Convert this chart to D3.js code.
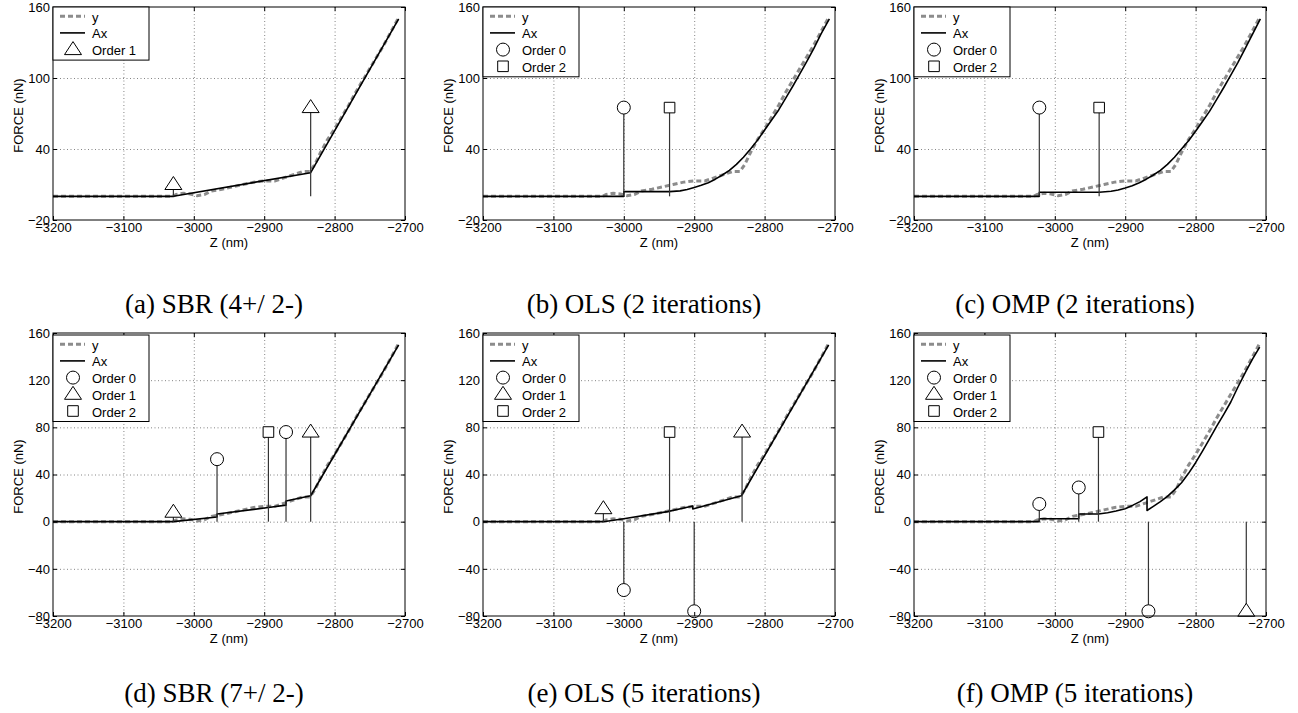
<!DOCTYPE html>
<html>
<head>
<meta charset="utf-8">
<script src="https://cdn.jsdelivr.net/npm/d3@7"></script>
<style>
  body { margin: 0; background: #fff; }
  svg text { font-family: "Liberation Sans", Arial, sans-serif; }
  svg text.caption { font-family: "Liberation Serif", "Times New Roman", serif; }
</style>
</head>
<body>
<div id="fig"></div>
<script>
// Tick values
const zTicks = [-3200, -3100, -3000, -2900, -2800, -2700];
const forceTicksTop = [-20, 40, 100, 160];
const forceTicksBottom = [-80, -40, 0, 40, 80, 120, 160];

// Measured curve y (same in every panel)
const yMeasured = [[-3200,0],[-3030,0],[-3025,1.5],[-3015,2.5],[-3005,2],[-2995,0.5],[-2985,1.5],
  [-2975,4.5],[-2960,6],[-2945,8],[-2930,10],[-2915,12],[-2900,13],[-2885,13],[-2870,16],
  [-2855,19],[-2845,21],[-2835,21],[-2828,27],[-2820,37],[-2810,48],[-2800,57],[-2790,67],
  [-2780,77],[-2770,88],[-2760,98],[-2750,108],[-2740,118],[-2730,128],[-2720,139],[-2710,150]];

// Fitted curves Ax
const axSBR4 = [[-3200,0],[-3029,0],[-2834,20],[-2709,150]];
const axOLS2 = [[-3200,0],[-3000,0],[-3000,4],[-2935,4],[-2920,4.6],[-2910,5.8],[-2900,7.5],
  [-2890,9.3],[-2880,11.5],[-2870,14.5],[-2860,18],[-2850,22],[-2840,27],[-2830,33],[-2820,40],
  [-2810,47.5],[-2800,56],[-2790,64.5],[-2780,73],[-2770,83],[-2760,93],[-2750,103.5],
  [-2740,114],[-2730,125],[-2720,137],[-2708,150]];
const axOMP2 = [[-3200,0],[-3022,0],[-3022,3.5],[-2937,3.5],[-2920,4.3],[-2910,5.4],[-2900,7],
  [-2890,9],[-2880,11.5],[-2870,14.5],[-2860,18],[-2850,22],[-2840,27],[-2830,33],[-2820,40],
  [-2810,47],[-2800,55],[-2790,63.5],[-2780,72],[-2770,82],[-2760,92],[-2750,102.5],
  [-2740,113],[-2730,124.5],[-2720,136],[-2708,150]];
const axSBR7 = [[-3200,0],[-3029,0],[-2967,4],[-2967,6.5],[-2894,12],[-2869,14],[-2869,17.5],
  [-2834,22],[-2709,150]];
const axOLS5 = [[-3200,0],[-3029,0],[-3000,2.5],[-2938,8.5],[-2902,13.3],[-2902,10.7],
  [-2833,22],[-2709,150]];
const axOMP5 = [[-3200,0],[-3022,0],[-3022,2.5],[-2966,2.5],[-2966,6.5],[-2938,6.5],[-2925,7.5],
  [-2913,9],[-2900,11],[-2889,14],[-2879,17],[-2869,21],[-2869,9.5],[-2860,13],[-2850,17],
  [-2840,21.5],[-2830,27],[-2820,33],[-2810,41],[-2800,50],[-2790,60],[-2780,70.5],[-2770,81],
  [-2760,91],[-2750,101.5],[-2740,114],[-2728,128],[-2719,138],[-2709,148]];

// Selected atoms (stems): z position, value, order
const stemsSBR4 = [{z:-3029,v:10,o:1},{z:-2834,v:75,o:1}];
const stemsOLS2 = [{z:-3000,v:75,o:0},{z:-2935,v:75,o:2}];
const stemsOMP2 = [{z:-3022,v:75,o:0},{z:-2937,v:75,o:2}];
const stemsSBR7 = [{z:-3029,v:8,o:1},{z:-2967,v:53,o:0},{z:-2894,v:76,o:2},{z:-2869,v:76,o:0},{z:-2834,v:76,o:1}];
const stemsOLS5 = [{z:-3029,v:11,o:1},{z:-3000,v:-58,o:0},{z:-2935,v:76,o:2},{z:-2900,v:-76,o:0},{z:-2832,v:76,o:1}];
const stemsOMP5 = [{z:-3022,v:15,o:0},{z:-2966,v:29,o:0},{z:-2938,v:76,o:2},{z:-2867,v:-76,o:0},{z:-2728,v:-76,o:1}];

const captions = ["(a) SBR (4+/ 2-)", "(b) OLS (2 iterations)", "(c) OMP (2 iterations)",
                  "(d) SBR (7+/ 2-)", "(e) OLS (5 iterations)", "(f) OMP (5 iterations)"];

// Layout
const boxW = 352;
const colLeft = [53, 483, 914];
const rows = [
  {top: 7,   h: 213, dom: [-20, 160], ticks: forceTicksTop,    capY: 313, legTop: 0},
  {top: 333, h: 283, dom: [-80, 160], ticks: forceTicksBottom, capY: 702, legTop: 2}
];

const panels = [
  {col:0, row:0, fit:axSBR4, stems:stemsSBR4},
  {col:1, row:0, fit:axOLS2, stems:stemsOLS2},
  {col:2, row:0, fit:axOMP2, stems:stemsOMP2},
  {col:0, row:1, fit:axSBR7, stems:stemsSBR7},
  {col:1, row:1, fit:axOLS5, stems:stemsOLS5},
  {col:2, row:1, fit:axOMP5, stems:stemsOMP5}
];

const svg = d3.select("#fig").append("svg")
  .attr("width", 1298)
  .attr("height", 713);

const fmt = d3.format("d");

// Marker shapes for the atom orders
function markerPath(o) {
  if (o === 0) return d3.symbol(d3.symbolCircle, Math.PI * 6.5 * 6.5)();
  if (o === 1) return "M0,-8L8.5,5L-8.5,5Z";
  return "M-5.3,-5.3H5.3V5.3H-5.3Z";
}

function drawPanel(p, i) {
  const r = rows[p.row];
  const h = r.h;
  const g = svg.append("g")
    .attr("transform", "translate(" + colLeft[p.col] + "," + r.top + ")");

  const x = d3.scaleLinear().domain([-3200, -2700]).range([0, boxW]);
  const y = d3.scaleLinear().domain(r.dom).range([h, 0]);

  // Grid
  g.append("g")
    .call(d3.axisBottom(x).tickValues(zTicks.slice(1, -1)).tickSize(h).tickFormat(""))
    .call(s => s.select(".domain").remove())
    .selectAll("line")
      .attr("stroke", "#666")
      .attr("stroke-width", 0.8)
      .attr("stroke-dasharray", "1,2.5");
  g.append("g")
    .call(d3.axisLeft(y).tickValues(r.ticks.slice(1, -1)).tickSize(-boxW).tickFormat(""))
    .call(s => s.select(".domain").remove())
    .selectAll("line")
      .attr("stroke", "#666")
      .attr("stroke-width", 0.8)
      .attr("stroke-dasharray", "1,2.5");

  const line = d3.line().x(d => x(d[0])).y(d => y(d[1]));

  // Measured y
  g.append("path")
    .datum(yMeasured)
    .attr("d", line)
    .attr("fill", "none")
    .attr("stroke", "#8c8c8c")
    .attr("stroke-width", 3)
    .attr("stroke-dasharray", "5,3");

  // Fit Ax
  g.append("path")
    .datum(p.fit)
    .attr("d", line)
    .attr("fill", "none")
    .attr("stroke", "#000")
    .attr("stroke-width", 1.6)
    .attr("stroke-linejoin", "round");

  // Stems
  g.selectAll(".stem")
    .data(p.stems)
    .enter()
    .append("line")
      .attr("x1", d => x(d.z))
      .attr("x2", d => x(d.z))
      .attr("y1", y(0))
      .attr("y2", d => y(d.v))
      .attr("stroke", "#333")
      .attr("stroke-width", 1.2);

  g.selectAll(".mark")
    .data(p.stems)
    .enter()
    .append("path")
      .attr("transform", d => "translate(" + x(d.z) + "," + y(d.v) + ")")
      .attr("d", d => markerPath(d.o))
      .attr("fill", "#fff")
      .attr("stroke", "#000")
      .attr("stroke-width", 1);

  // Box
  g.append("rect")
    .attr("width", boxW)
    .attr("height", h)
    .attr("fill", "none")
    .attr("stroke", "#000")
    .attr("stroke-width", 1);

  // Axes with inward ticks
  g.append("g")
    .attr("transform", "translate(0," + h + ")")
    .call(d3.axisBottom(x).tickValues(zTicks).tickSize(-4).tickSizeOuter(0).tickPadding(3).tickFormat(fmt))
    .call(s => s.select(".domain").remove())
    .attr("font-size", 13)
    .attr("font-family", null);
  g.append("g")
    .call(d3.axisTop(x).tickValues(zTicks).tickSize(-4).tickSizeOuter(0).tickFormat(""))
    .call(s => s.select(".domain").remove());
  g.append("g")
    .call(d3.axisLeft(y).tickValues(r.ticks).tickSize(-4).tickSizeOuter(0).tickPadding(3).tickFormat(fmt))
    .call(s => s.select(".domain").remove())
    .attr("font-size", 13)
    .attr("font-family", null);
  g.append("g")
    .attr("transform", "translate(" + boxW + ",0)")
    .call(d3.axisRight(y).tickValues(r.ticks).tickSize(-4).tickSizeOuter(0).tickFormat(""))
    .call(s => s.select(".domain").remove());
  g.selectAll(".tick text").attr("fill", "#000");

  // Axis labels
  g.append("text")
    .attr("x", boxW / 2)
    .attr("y", h + 27)
    .attr("text-anchor", "middle")
    .attr("font-size", 13)
    .text("Z (nm)");
  g.append("text")
    .attr("transform", "translate(-30," + (h / 2 + 2) + ")rotate(-90)")
    .attr("text-anchor", "middle")
    .attr("font-size", 13)
    .text("FORCE (nN)");

  // Legend
  const orders = Array.from(new Set(p.stems.map(d => d.o))).sort();
  const entries = [{label: "y", kind: "y"}, {label: "Ax", kind: "ax"}]
    .concat(orders.map(o => ({label: "Order " + o, kind: "m", o: o})));
  const step = 16.7;
  const leg = g.append("g").attr("transform", "translate(0," + r.legTop + ")");
  leg.append("rect")
    .attr("width", 96)
    .attr("height", 14.7 + (entries.length - 1) * step + 5)
    .attr("fill", "#fff")
    .attr("stroke", "#000")
    .attr("stroke-width", 1);
  entries.forEach((e, k) => {
    const base = 14.7 + k * step;
    const cy = base - 5.5;
    if (e.kind === "y") {
      leg.append("line").attr("x1", 7).attr("x2", 32).attr("y1", cy).attr("y2", cy)
        .attr("stroke", "#8c8c8c").attr("stroke-width", 3).attr("stroke-dasharray", "5,3");
    } else if (e.kind === "ax") {
      leg.append("line").attr("x1", 7).attr("x2", 32).attr("y1", cy).attr("y2", cy)
        .attr("stroke", "#000").attr("stroke-width", 1.6);
    } else {
      leg.append("path")
        .attr("transform", "translate(20," + cy + ")")
        .attr("d", markerPath(e.o))
        .attr("fill", "#fff")
        .attr("stroke", "#000");
    }
    leg.append("text")
      .attr("x", 39)
      .attr("y", base)
      .attr("font-size", 13)
      .text(e.label);
  });

  // Caption
  svg.append("text")
    .attr("class", "caption")
    .attr("x", colLeft[p.col] + boxW / 2 - 15)
    .attr("y", r.capY)
    .attr("text-anchor", "middle")
    .attr("font-size", 27)
    .text(captions[i]);
}

panels.forEach(drawPanel);
</script>
</body>
</html>
